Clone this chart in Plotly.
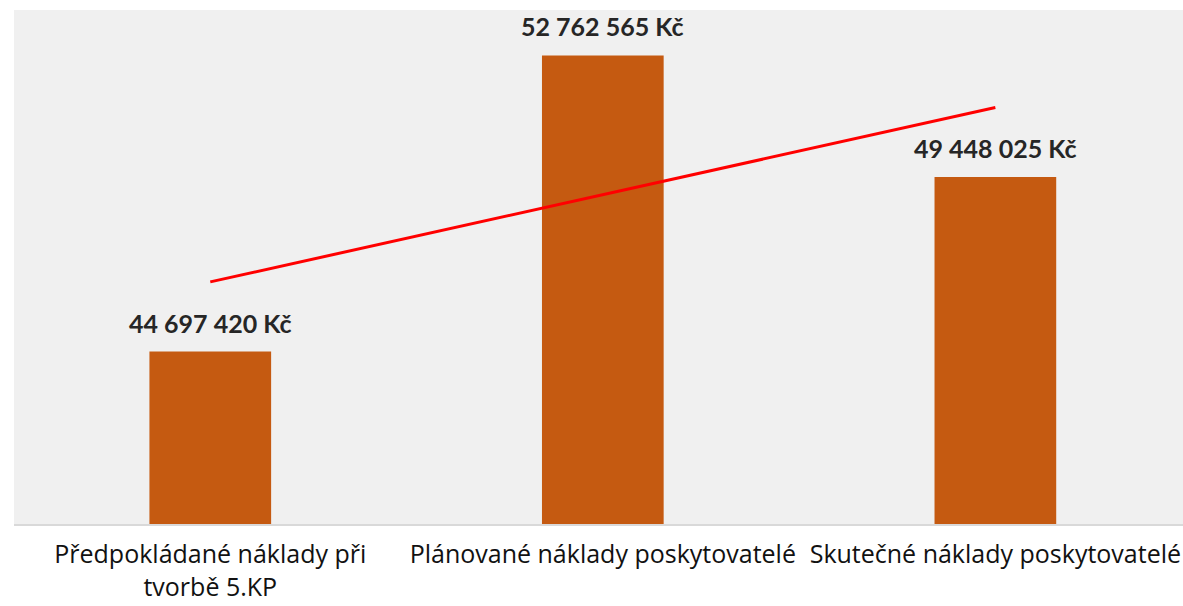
import numpy as np
import plotly.graph_objects as go

# Costs of the 5th community plan (Kč)
CATEGORIES = [
    "Předpokládané náklady při<br>tvorbě 5.KP",
    "Plánované náklady poskytovatelé",
    "Skutečné náklady poskytovatelé",
]
COSTS = [44697420, 52762565, 49448025]

BAR_COLOR = "#C55A11"
TEXT_COLOR = "#262626"
FONT = "Lato, 'Open Sans', sans-serif"
TICK_FONT = "'Open Sans', Lato, sans-serif"


def fmt_kc(v):
    return f"{v:,}".replace(",", " ") + " Kč"


fig = go.Figure()

fig.add_trace(go.Bar(
    x=CATEGORIES,
    y=COSTS,
    width=0.31,
    marker=dict(color=BAR_COLOR, line=dict(width=0)),
    showlegend=False,
))

# linear trend line (least squares over category index), like Excel's trendline
idx = np.arange(len(COSTS))
slope, intercept = np.polyfit(idx, COSTS, 1)
fig.add_trace(go.Scatter(
    x=CATEGORIES,
    y=slope * idx + intercept,
    mode="lines",
    line=dict(color="#FF0000", width=3),
    showlegend=False,
))

# value labels above the bars
for cat, v in zip(CATEGORIES, COSTS):
    fig.add_annotation(
        x=cat, y=v, xref="x", yref="y",
        text=f"<b>{fmt_kc(v)}</b>",
        showarrow=False,
        yanchor="bottom", yshift=12,
        font=dict(family=FONT, size=25, color=TEXT_COLOR),
    )

fig.update_layout(
    width=1183,
    height=606,
    margin=dict(l=14, r=0, t=10, b=82, autoexpand=False),
    paper_bgcolor="white",
    plot_bgcolor="#F0F0F0",
    font=dict(family=FONT, color=TEXT_COLOR),
    xaxis=dict(
        type="category",
        range=[-0.5, 2.478],
        automargin=False,
        showline=True, linecolor="#D9D9D9", linewidth=2,
        showgrid=False,
        ticks="outside", ticklen=7, tickcolor="rgba(0,0,0,0)",
        tickfont=dict(family=TICK_FONT, size=25, color="#111111"),
    ),
    yaxis=dict(
        range=[40_000_000, 54_000_000],
        visible=False,
        showgrid=False,
        zeroline=False,
        automargin=False,
    ),
)

# drop the page's default body margin so the figure sits at the window's corner
fig.write_html(
    "out.html",
    config={"displayModeBar": False},
    post_script="document.body.style.margin = '0';",
)
